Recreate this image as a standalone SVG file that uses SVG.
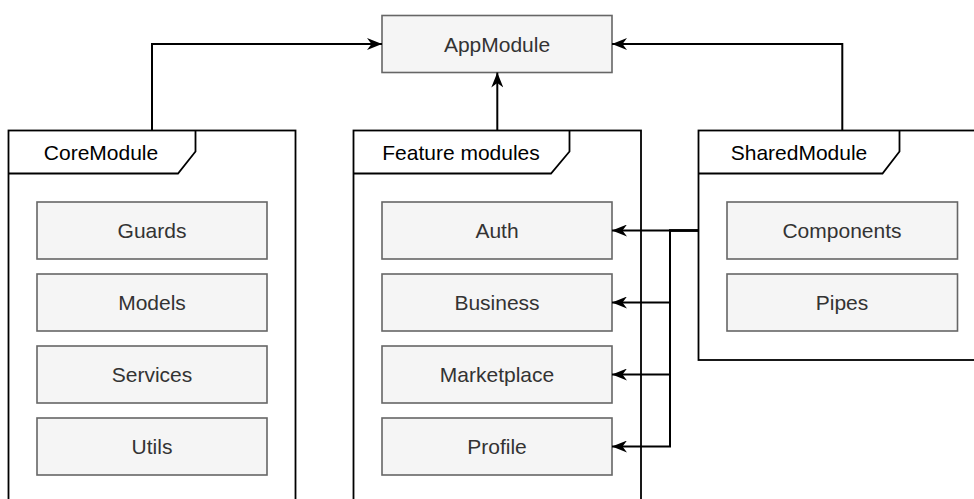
<svg xmlns="http://www.w3.org/2000/svg" width="974" height="499" viewBox="0 0 974 499">
<style>
.bg{fill:#ffffff}
.box{fill:#f5f5f5;stroke:#666666;stroke-width:1.6}
.btxt{font-family:"Liberation Sans",Arial,Helvetica,sans-serif;font-size:21px;fill:#333333;text-anchor:middle;dominant-baseline:central}
.frame{fill:#ffffff;stroke:#000000;stroke-width:1.8}
.tab{fill:none;stroke:#000000;stroke-width:1.8;stroke-linejoin:miter}
.ftxt{font-family:"Liberation Sans",Arial,Helvetica,sans-serif;font-size:21px;fill:#000000;text-anchor:middle;dominant-baseline:central}
.conn{fill:none;stroke:#000000;stroke-width:2}
</style>
<defs>
<marker id="arr" viewBox="0 0 15 12" refX="15" refY="6" markerWidth="15" markerHeight="12" markerUnits="userSpaceOnUse" orient="auto">
<path d="M0,0 L15,6 L0,12 L4.5,6 Z" fill="#000000"/>
</marker>
</defs>
<rect class="bg" x="0" y="0" width="974" height="499"/>

<g id="app-module">
<rect class="box" x="382" y="15.5" width="230" height="57"/>
<text class="btxt" x="497" y="44">AppModule</text>
</g>

<g id="core-module">
<rect class="frame" x="8.5" y="130.5" width="287" height="380"/>
<path class="tab" d="M8.5,173.5 H178 L195.5,151.5 V130.5"/>
<text class="ftxt" x="101" y="152">CoreModule</text>
</g>
<g id="guards"><rect class="box" x="37" y="202" width="230" height="57"/><text class="btxt" x="152" y="230.5">Guards</text></g>
<g id="models"><rect class="box" x="37" y="274" width="230" height="57"/><text class="btxt" x="152" y="302.5">Models</text></g>
<g id="services"><rect class="box" x="37" y="346" width="230" height="57"/><text class="btxt" x="152" y="374.5">Services</text></g>
<g id="utils"><rect class="box" x="37" y="418" width="230" height="57"/><text class="btxt" x="152" y="446.5">Utils</text></g>

<g id="feature-modules">
<rect class="frame" x="353.5" y="130.5" width="287.5" height="380"/>
<path class="tab" d="M353.5,173.5 H551 L569.5,151.5 V130.5"/>
<text class="ftxt" x="461" y="152">Feature modules</text>
</g>
<g id="auth"><rect class="box" x="382" y="202" width="230" height="57"/><text class="btxt" x="497" y="230.5">Auth</text></g>
<g id="business"><rect class="box" x="382" y="274" width="230" height="57"/><text class="btxt" x="497" y="302.5">Business</text></g>
<g id="marketplace"><rect class="box" x="382" y="346" width="230" height="57"/><text class="btxt" x="497" y="374.5">Marketplace</text></g>
<g id="profile"><rect class="box" x="382" y="418" width="230" height="57"/><text class="btxt" x="497" y="446.5">Profile</text></g>

<g id="shared-module">
<rect class="frame" x="698.5" y="130.5" width="288" height="229.5"/>
<path class="tab" d="M698.5,173.5 H882.5 L899.5,151.5 V130.5"/>
<text class="ftxt" x="799" y="152">SharedModule</text>
</g>
<g id="components"><rect class="box" x="727" y="202" width="230.5" height="57"/><text class="btxt" x="842" y="230.5">Components</text></g>
<g id="pipes"><rect class="box" x="727" y="274" width="230.5" height="57"/><text class="btxt" x="842" y="302.5">Pipes</text></g>

<g id="connectors">
<path class="conn" d="M152,130.5 V44 H382" marker-end="url(#arr)"/>
<path class="conn" d="M497.3,130.5 V72.5" marker-end="url(#arr)"/>
<path class="conn" d="M842.3,130.5 V44 H612" marker-end="url(#arr)"/>
<path class="conn" d="M698.5,230.5 H612" marker-end="url(#arr)"/>
<path class="conn" d="M698.5,230.5 H670 V302.5 H612" marker-end="url(#arr)"/>
<path class="conn" d="M698.5,230.5 H670 V374.5 H612" marker-end="url(#arr)"/>
<path class="conn" d="M698.5,230.5 H670 V446.5 H612" marker-end="url(#arr)"/>
</g>
</svg>
